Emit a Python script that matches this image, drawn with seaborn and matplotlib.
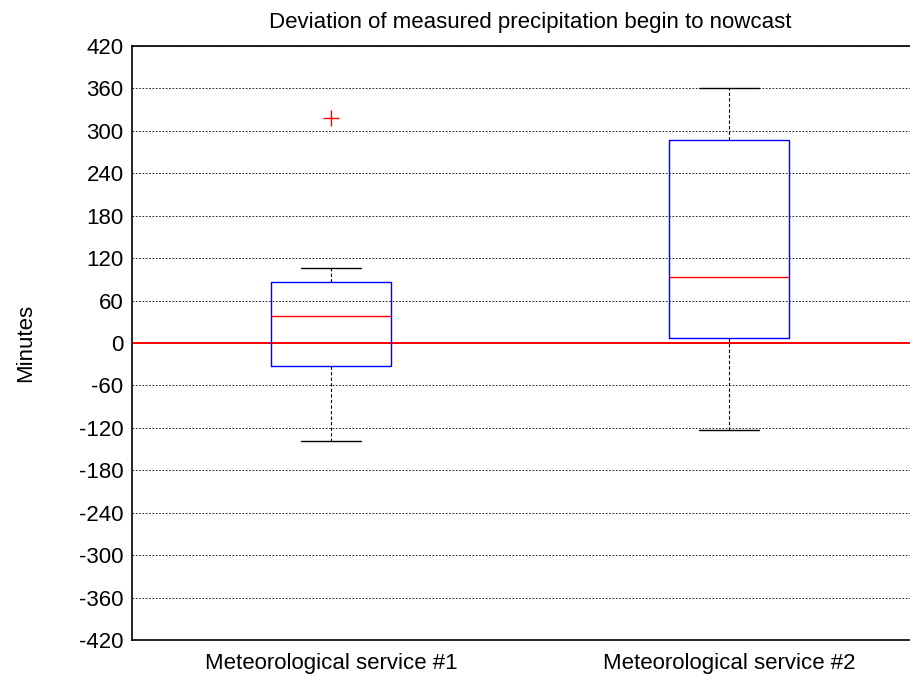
import pandas as pd
import matplotlib
matplotlib.use('Agg')
import matplotlib.pyplot as plt
import seaborn as sns


# Deviation values (minutes) per service
service_1 = [-139, -80, -33, 0, 38, 60, 86, 106, 318]
service_2 = [-123, -40, 7, 50, 93, 200, 287, 330, 361]
labels = ['Meteorological service #1', 'Meteorological service #2']
yticks = list(range(-420, 421, 60))

data = pd.DataFrame({
    'service': [labels[0]] * len(service_1) + [labels[1]] * len(service_2),
    'minutes': service_1 + service_2,
})

sns.set_style('white')
plt.rcParams['font.family'] = ['Liberation Sans', 'DejaVu Sans']
plt.rcParams['text.color'] = 'black'
plt.rcParams['axes.labelcolor'] = 'black'
plt.rcParams['xtick.color'] = 'black'
plt.rcParams['ytick.color'] = 'black'

fig = plt.figure(figsize=(9.1, 6.74), dpi=100)
ax = fig.add_axes([0.145, 0.0504, 0.875, 0.8813])

# grid first so it sits behind the boxes
for y in yticks:
    ax.axhline(y, color='black', linestyle=(0, (2, 2)), linewidth=0.6, zorder=0)

ax.axhline(0, color='red', linewidth=1.4, zorder=1)

sns.boxplot(data=data, x='service', y='minutes', order=labels, width=0.3,
            fill=False, whis=1.5, linewidth=1.0, ax=ax,
            boxprops={'color': 'blue', 'linewidth': 1.0},
            medianprops={'color': 'red', 'linewidth': 1.0},
            whiskerprops={'color': 'black', 'linestyle': (0, (3, 2)), 'linewidth': 0.8},
            capprops={'color': 'black', 'linewidth': 1.0},
            flierprops={'marker': '+', 'markeredgecolor': 'red', 'markersize': 11,
                        'markeredgewidth': 1.0})

ax.set_xlim(-0.5, 1.5)
ax.set_ylim(-420, 420)
ax.set_yticks(yticks)
ax.set_yticklabels([str(t) for t in yticks], fontsize=16)
ax.tick_params(axis='y', direction='in', length=5, width=1, pad=6)
ax.tick_params(axis='x', length=0, labelsize=16, pad=9)

for side in ['left', 'bottom', 'top', 'right']:
    ax.spines[side].set_color('black')
    ax.spines[side].set_linewidth(1.2)

ax.set_title('Deviation of measured precipitation begin to nowcast', fontsize=16, pad=13)
ax.set_xlabel('')
ax.set_ylabel('Minutes', fontsize=16)
ax.yaxis.set_label_coords(-0.12, 0.5)

fig.savefig('out.png', dpi=100)
